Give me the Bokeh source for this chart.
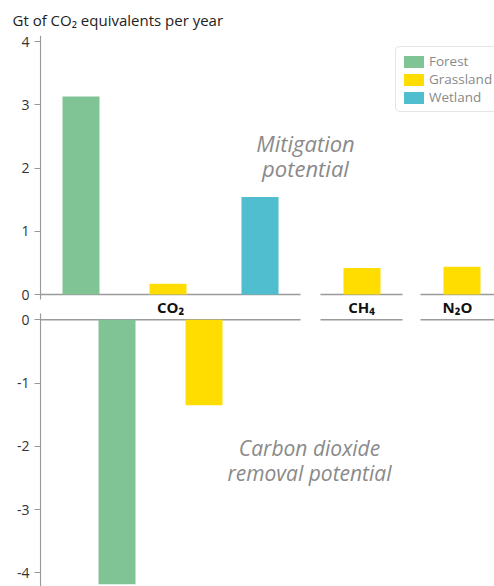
from bokeh.plotting import figure
from bokeh.models import ColumnDataSource, Range1d, FixedTicker, Legend, LegendItem
from bokeh.embed import file_html
from bokeh.resources import INLINE
from bokeh.core.properties import value

# ---------------- data ----------------
gases = ["CO₂", "CH₄", "N₂O"]
land_types = ["Forest", "Grassland", "Wetland"]
land_colors = ["#80c495", "#ffdd00", "#50bece"]

# Mitigation potential (Gt CO2-eq per year)
mit_gas = ["CO₂", "CO₂", "CO₂", "CH₄", "N₂O"]
mit_land = ["Forest", "Grassland", "Wetland", "Grassland", "Grassland"]
mit_value = [3.13, 0.17, 1.54, 0.42, 0.44]

# Carbon dioxide removal potential (Gt CO2-eq per year)
cdr_gas = ["CO₂", "CO₂"]
cdr_land = ["Forest", "Grassland"]
cdr_value = [-4.18, -1.35]

top_ticks = [0, 1, 2, 3, 4]
top_tick_labels = ["0", "1", "2", "3", "4"]
bottom_ticks = [0, -1, -2, -3, -4]
bottom_tick_labels = ["0", "-1", "-2", "-3", "-4"]
title_text = "Gt of CO₂ equivalents per year"
mit_label = "Mitigation\npotential"
cdr_label = "Carbon dioxide\nremoval potential"

# ---------------- layout ----------------
FONT = "Open Sans"
X_MAX = 454
BAR_W = 37
MIT_POS = {("CO₂", "Forest"): 40.5, ("CO₂", "Grassland"): 127.5, ("CO₂", "Wetland"): 219.5,
           ("CH₄", "Grassland"): 321.5, ("N₂O", "Grassland"): 421.5}
CDR_POS = {("CO₂", "Forest"): 76.5, ("CO₂", "Grassland"): 163.5}
GROUP_SPAN = {"CO₂": (0, 260), "CH₄": (280, 362), "N₂O": (380, 454)}
GAP = 0.4            # vertical gap (in axis units) between the two panels
Y_END = 4.095
Y_START = -4.616
AXIS_GRAY = "#9a9a9a"
NOTE_GRAY = "#8a8a8a"

p = figure(width=494, height=586, output_backend="svg", toolbar_location=None,
           x_range=Range1d(-1, X_MAX), y_range=Range1d(Y_START, Y_END),
           x_axis_location=None,
           min_border_left=39, min_border_right=0, min_border_top=35, min_border_bottom=0)
p.grid.visible = False
p.outline_line_color = None
p.background_fill_color = "white"
p.border_fill_color = "white"

p.title.text = title_text
p.title.text_font = FONT
p.title.text_font_size = "15px"
p.title.text_font_style = "normal"
p.title.text_color = "#222222"
p.title.align = "left"
p.title.offset = -27
p.title.standoff = 12

# y axis: two panels on one axis (bottom panel shifted down by GAP)
ax = p.yaxis[0]
tick_pos = list(top_ticks) + [t - GAP for t in bottom_ticks]
tick_lab = list(top_tick_labels) + list(bottom_tick_labels)
ax.ticker = FixedTicker(ticks=tick_pos)
ax.major_label_overrides = {t: l for t, l in zip(tick_pos, tick_lab)}
ax.axis_line_color = None
ax.major_tick_line_color = AXIS_GRAY
ax.major_tick_line_width = 1.2
ax.major_tick_out = 5
ax.major_tick_in = 1
ax.minor_tick_line_color = None
ax.major_label_standoff = 5
ax.major_label_text_font = FONT
ax.major_label_text_font_size = "14px"
ax.major_label_text_color = "#333333"

# broken axis line (one piece per panel)
ax_src = ColumnDataSource(dict(x=[0, 0], y0=[-0.08, -GAP + 0.1], y1=[Y_END, Y_START]))
p.segment(x0="x", x1="x", y0="y0", y1="y1", source=ax_src, line_color=AXIS_GRAY, line_width=1.2)

# baselines for each gas group, in both panels
seg_src = ColumnDataSource(dict(
    x0=[GROUP_SPAN[g][0] for g in gases] * 2,
    x1=[GROUP_SPAN[g][1] for g in gases] * 2,
    y=[0] * len(gases) + [-GAP] * len(gases)))
p.segment(x0="x0", x1="x1", y0="y", y1="y", source=seg_src,
          line_color=AXIS_GRAY, line_width=1.5)

# category labels between the panels
centers = [(GROUP_SPAN[g][0] + GROUP_SPAN[g][1]) / 2 for g in gases]
p.text(x=centers, y=[-GAP / 2] * len(gases), text=gases, text_font=value(FONT),
       text_font_style="bold", text_font_size="15px", text_color="#111111",
       text_align="center", text_baseline="middle")

# mitigation bars
items = []
for lt, col in zip(land_types, land_colors):
    xs = [MIT_POS[(g, l)] for g, l, v in zip(mit_gas, mit_land, mit_value) if l == lt]
    vs = [v for g, l, v in zip(mit_gas, mit_land, mit_value) if l == lt]
    src = ColumnDataSource(dict(x=xs, top=vs))
    r = p.vbar(x="x", top="top", bottom=0, width=BAR_W, source=src,
               fill_color=col, line_color=None)
    items.append(LegendItem(label=lt, renderers=[r]))

# removal bars (bottom panel)
for lt, col in zip(land_types, land_colors):
    xs = [CDR_POS[(g, l)] for g, l, v in zip(cdr_gas, cdr_land, cdr_value) if l == lt]
    vs = [v - GAP for g, l, v in zip(cdr_gas, cdr_land, cdr_value) if l == lt]
    if not xs:
        continue
    src = ColumnDataSource(dict(x=xs, bottom=vs))
    p.vbar(x="x", top=-GAP, bottom="bottom", width=BAR_W, source=src,
           fill_color=col, line_color=None)

legend = Legend(items=items, location=(356, 474))
legend.glyph_width = 25
legend.glyph_height = 15
legend.label_height = 15
legend.spacing = 0
legend.padding = 5
legend.label_standoff = 3
legend.label_text_font = FONT
legend.label_text_font_size = "13.5px"
legend.label_text_color = "#8a8a8a"
legend.border_line_color = "#cccccc"
legend.border_radius = 5
legend.background_fill_alpha = 1
p.add_layout(legend)

p.text(x=[265], y=[2.2], text=[mit_label], text_font=value(FONT), text_font_style="italic",
       text_font_size="22px", text_color=NOTE_GRAY, text_align="center",
       text_baseline="middle", text_line_height=0.85)
p.text(x=[269], y=[-GAP - 2.22], text=[cdr_label], text_font=value(FONT), text_font_style="italic",
       text_font_size="21px", text_color=NOTE_GRAY, text_align="center",
       text_baseline="middle", text_line_height=0.9)

open("out.html", "w").write(file_html(p, INLINE))
